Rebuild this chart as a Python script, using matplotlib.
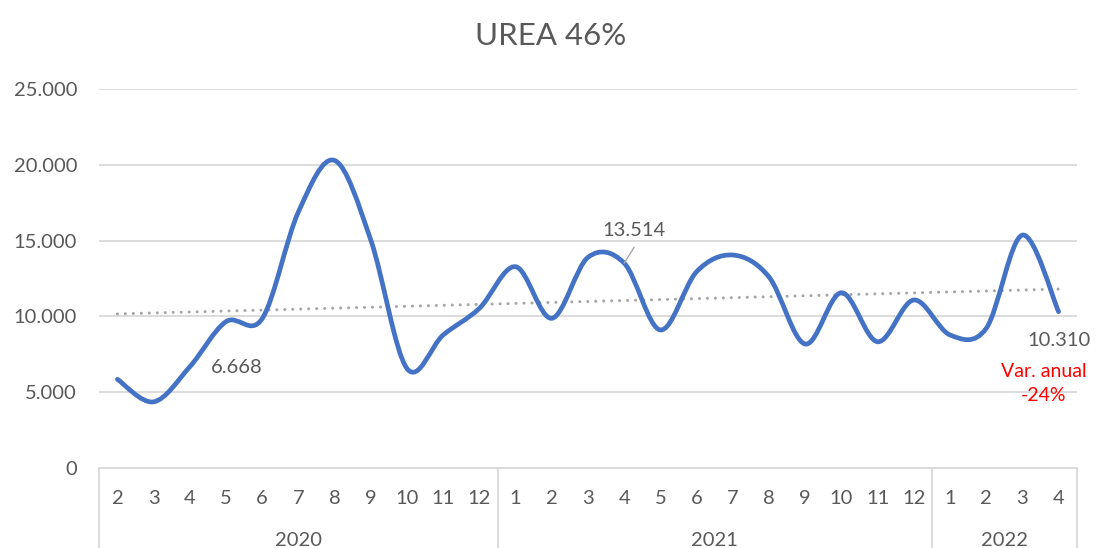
import matplotlib
matplotlib.use("Agg")
import matplotlib.pyplot as plt
import numpy as np
from matplotlib.path import Path
from matplotlib.patches import PathPatch
from matplotlib.transforms import blended_transform_factory

plt.rcParams['font.family'] = ['Lato', 'DejaVu Sans']

# Monthly prices (Feb 2020 - Apr 2022)
years = ["2020", "2021", "2022"]
months_2020 = [2, 3, 4, 5, 6, 7, 8, 9, 10, 11, 12]
months_2021 = [1, 2, 3, 4, 5, 6, 7, 8, 9, 10, 11, 12]
months_2022 = [1, 2, 3, 4]
prices_2020 = [5840, 4350, 6668, 9650, 9850, 16900, 20300, 15040, 6550, 8770, 10530]
prices_2021 = [13280, 9870, 13900, 13514, 9100, 12950, 14050, 12600, 8170, 11560, 8320, 11080]
prices_2022 = [8770, 9200, 15370, 10310]
y_ticks = [0, 5000, 10000, 15000, 20000, 25000]

month_labels = [str(m) for m in months_2020 + months_2021 + months_2022]
values = np.array(prices_2020 + prices_2021 + prices_2022, dtype=float)
year_sizes = [len(months_2020), len(months_2021), len(months_2022)]
x = np.arange(len(values), dtype=float)

TEXT = "#595959"
GRID = "#D9D9D9"
LINE = "#4472C4"
FS = 14.5


def fmt(v):
    return f"{v:,.0f}".replace(",", ".")


fig = plt.figure(figsize=(10.96, 5.48), dpi=100)
ax = fig.add_axes([99.3 / 1096, 80.3 / 548, (1076.7 - 99.3) / 1096, (467.7 - 89.3) / 548])

ax.set_xlim(-0.5, len(values) - 0.5)
ax.set_ylim(0, 25000)

# horizontal gridlines
ax.set_yticks(y_ticks)
ax.set_yticklabels([fmt(v) for v in y_ticks], fontsize=FS, color=TEXT)
ax.tick_params(axis='y', length=0, pad=16)
ax.grid(axis='y', color=GRID, linewidth=1.3)
ax.set_axisbelow(True)
for side in ["left", "right", "top"]:
    ax.spines[side].set_visible(False)
ax.spines["bottom"].set_color(GRID)
ax.spines["bottom"].set_linewidth(1.3)

# month labels
ax.set_xticks(x)
ax.set_xticklabels(month_labels, fontsize=FS, color=TEXT)
ax.tick_params(axis='x', length=0, pad=16)

# year group separators and labels
trans = blended_transform_factory(ax.transData, ax.transAxes)
bounds = np.concatenate([[0], np.cumsum(year_sizes)]) - 0.5
for b in bounds:
    ax.plot([b, b], [0, -0.25], transform=trans, color=GRID, linewidth=1.3, clip_on=False)
for i, yr in enumerate(years):
    ax.text((bounds[i] + bounds[i + 1]) / 2, -0.192, yr, transform=trans,
            ha='center', va='center', fontsize=FS, color=TEXT)

# smoothed line (Catmull-Rom as cubic Bezier)
pts = np.column_stack([x, values])
ext = np.vstack([pts[0], pts, pts[-1]])
verts = [tuple(pts[0])]
codes = [Path.MOVETO]
for i in range(len(pts) - 1):
    p0, p1, p2, p3 = ext[i], ext[i + 1], ext[i + 2], ext[i + 3]
    c1 = p1 + (p2 - p0) / 6.0
    c2 = p2 - (p3 - p1) / 6.0
    verts += [tuple(c1), tuple(c2), tuple(p2)]
    codes += [Path.CURVE4] * 3
ax.add_patch(PathPatch(Path(verts, codes), facecolor='none', edgecolor=LINE,
                       linewidth=3.4, capstyle='round', joinstyle='round', zorder=3))

# linear trend
coef = np.polyfit(x, values, 1)
ax.plot(x, np.polyval(coef, x), color="#A6A6A6", linewidth=2.2,
        linestyle=(0, (0.01, 2.6)), dash_capstyle='round', zorder=2)

# data labels
ax.annotate(fmt(values[2]), xy=(x[2], values[2]),
            xytext=(47, -1), textcoords='offset pixels',
            fontsize=FS, color=TEXT, ha='center', va='center')
i13 = len(months_2020) + 3
ax.annotate("", xy=(x[i13], values[i13]), xytext=(10, 16), textcoords='offset pixels',
            arrowprops=dict(arrowstyle='-', color="#A6A6A6", linewidth=1,
                            shrinkA=0, shrinkB=0))
ax.annotate(fmt(values[i13]), xy=(x[i13], values[i13]),
            xytext=(10, 33), textcoords='offset pixels',
            fontsize=FS, color=TEXT, ha='center', va='center')
ax.annotate(fmt(values[-1]), xy=(x[-1], values[-1]),
            xytext=(0, -28.5), textcoords='offset pixels',
            fontsize=FS, color=TEXT, ha='center', va='center')
ax.annotate("Var. anual\n-24%", xy=(x[-1], values[-1]),
            xytext=(-15, -72), textcoords='offset pixels',
            fontsize=14, color="#FF0000", ha='center', va='center', linespacing=1.45)

fig.text(551 / 1096, 1 - 36 / 548, "UREA 46%", ha='center', va='center',
         fontsize=22.5, color=TEXT)

fig.savefig("out.png", dpi=100, facecolor='white')
